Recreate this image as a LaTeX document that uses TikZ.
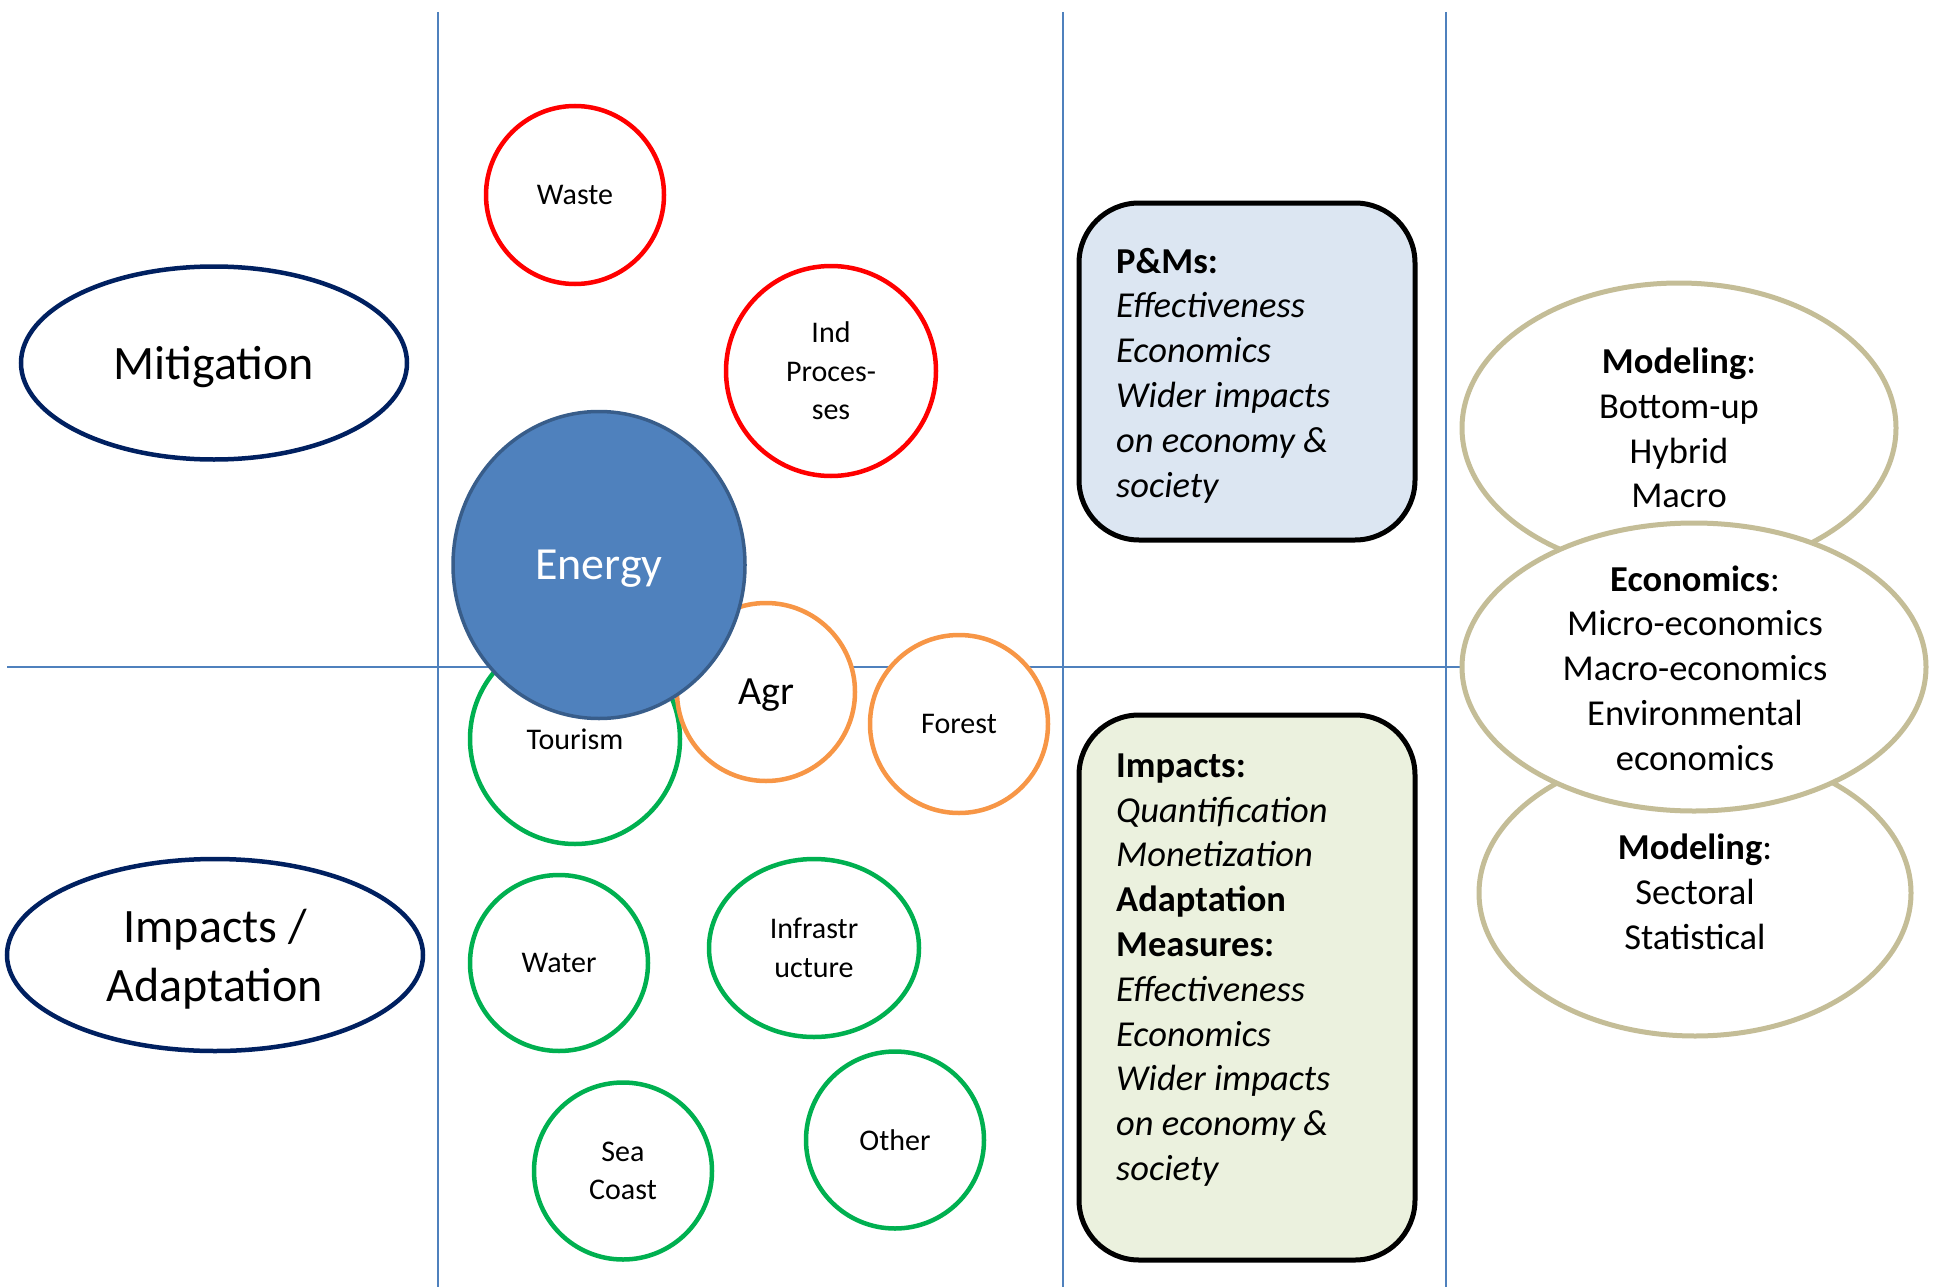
\documentclass[tikz,border=0pt]{standalone}
\usepackage{fontspec}
\setmainfont{Carlito}
\usetikzlibrary{shapes.geometric}
\definecolor{gridblue}{HTML}{4F81BD}
\definecolor{navyc}{HTML}{002060}
\definecolor{redc}{HTML}{FF0000}
\definecolor{greenc}{HTML}{00B050}
\definecolor{orangec}{HTML}{F79646}
\definecolor{tanc}{HTML}{C4BD97}
\definecolor{energyfill}{HTML}{4F81BD}
\definecolor{energyline}{HTML}{385D8A}
\definecolor{pmfill}{HTML}{DCE6F2}
\definecolor{impfill}{HTML}{EBF1DE}
\begin{document}
\begin{tikzpicture}[x=1pt,y=-1pt,
  gridline/.style={draw=gridblue, line width=2.8pt},
  category/.style={ellipse, draw=navyc, line width=4.5pt, fill=white, inner sep=0pt,
    align=center, text depth=0pt, font=\fontsize{48}{59}\selectfont},
  sector/.style={ellipse, fill=white, line width=4.5pt, inner sep=0pt,
    align=center, font=\fontsize{30}{38.5}\selectfont},
  mitsector/.style={sector, draw=redc},
  agsector/.style={sector, draw=orangec},
  adsector/.style={sector, draw=greenc},
  infobox/.style={rectangle, rounded corners=60pt, draw=black, line width=5pt,
    minimum width=336pt, minimum height=337pt, inner sep=0pt},
  boxtext/.style={align=left, inner sep=0pt, anchor=west,
    font=\fontsize{36.5}{44.8}\selectfont},
  method/.style={ellipse, draw=tanc, line width=5pt, fill=white, inner sep=0pt},
  methodtext/.style={align=center, inner sep=0pt, font=\fontsize{36.5}{44.8}\selectfont}
]
\useasboundingbox (0,0) rectangle (1933,1287);
% grid
\draw[gridline] (438,12) -- (438,1287);
\draw[gridline] (1063,12) -- (1063,1287);
\draw[gridline] (1446,12) -- (1446,1287);
\draw[gridline] (7,667) -- (1470,667);
% categories
\node[category, minimum width=386pt, minimum height=193pt] (mitigation) at (214,363) {Mitigation};
\node[category, minimum width=416pt, minimum height=192pt] (impacts) at (215,955) {Impacts /\\Adaptation};
% boxes
\node[infobox, fill=pmfill, minimum height=337pt] (pm) at (1247,371.5) {};
\node[boxtext] (pmtext) at (1116,375.5) {\textbf{P\&Ms:}\\\textit{Effectiveness}\\\textit{Economics}\\\textit{Wider impacts}\\\textit{on economy \&}\\\textit{society}};
\node[infobox, fill=impfill, minimum height=545pt] (imp) at (1247,987.5) {};
\node[boxtext] (imptext) at (1116,970) {\textbf{Impacts:}\\\textit{Quantification}\\\textit{Monetization}\\\textbf{Adaptation}\\\textbf{Measures:}\\\textit{Effectiveness}\\\textit{Economics}\\\textit{Wider impacts}\\\textit{on economy \&}\\\textit{society}};
% methods
\node[method, minimum width=434pt, minimum height=290pt] (modtop) at (1679,428) {};
\node[method, minimum width=432pt, minimum height=286pt] (modbot) at (1695,893) {};
\node[method, minimum width=464pt, minimum height=288pt] (econ) at (1694,667) {};
\node[methodtext] (modtoptext) at (1679,428) {\textbf{Modeling}:\\Bottom-up\\Hybrid\\Macro};
\node[methodtext] (econtext) at (1695,668) {\textbf{Economics}:\\Micro-economics\\Macro-economics\\Environmental\\economics};
\node[methodtext] (modbottext) at (1695,892) {\textbf{Modeling}:\\Sectoral\\Statistical};
% sectors
\node[mitsector, minimum width=178pt, minimum height=178pt] (waste) at (575,195) {Waste};
\node[mitsector, minimum width=210pt, minimum height=210pt] (ind) at (831,371) {Ind\\Proces-\\ses};
\node[adsector, minimum width=210pt, minimum height=210pt] (tourism) at (575,739) {Tourism};
\node[agsector, minimum width=178pt, minimum height=178pt, text depth=0pt, font=\fontsize{40}{48}\selectfont] (agr) at (766,692) {Agr};
\node[agsector, minimum width=178pt, minimum height=178pt] (forest) at (959,724) {Forest};
\node[adsector, minimum width=178pt, minimum height=176pt] (water) at (559,963) {Water};
\node[adsector, minimum width=210pt, minimum height=178pt] (infra) at (814,948) {Infrastr\\ucture};
\node[adsector, minimum width=178pt, minimum height=177pt] (sea) at (623,1171) {Sea\\Coast};
\node[adsector, minimum width=178pt, minimum height=177pt] (other) at (895,1140) {Other};
\node[ellipse, fill=energyfill, draw=energyline, line width=3.5pt, minimum width=292pt,
  minimum height=307pt, inner sep=0pt, text=white, text depth=0pt,
  font=\fontsize{46}{55}\selectfont] (energy) at (599,565) {Energy};
\end{tikzpicture}
\end{document}
